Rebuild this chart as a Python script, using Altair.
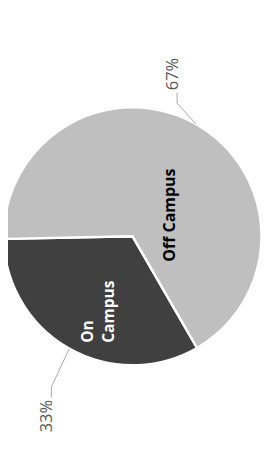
import math
import altair as alt
import pandas as pd

# ---- data ----
categories = ["On Campus", "Off Campus"]
values = [33, 67]
inner_text = [["On", "Campus"], ["Off Campus"]]

# ---- styles / layout ----
slice_colors = ["#404040", "#bfbfbf"]
inner_colors = ["#ffffff", "#000000"]
W, H = 261, 444
CX, CY = 128.5, 228.5
R = 132
START_DEG = 150
FONT = "Open Sans"

total = sum(values)
pct_text = [f"{round(100 * v / total)}%" for v in values]

mids = []
acc = 0
for v in values:
    mids.append(START_DEG + 360 * (acc + v / 2) / total)
    acc += v


def polar(deg, r):
    a = math.radians(deg)
    return CX + r * math.sin(a), CY - r * math.cos(a)


# label placement (radius along slice mid-angle + nudge)
inner_r = [110, 40]
inner_nudge = [(8, 14), (19, 13)]
pct_r = [190, 170]
pct_nudge = [(10.5, 20), (-36.5, -19.3)]

df = pd.DataFrame({"cat": categories, "value": values, "order": list(range(len(values)))})

inner_rows = []
pct_rows = []
leader_rows = []
for i, c in enumerate(categories):
    ix, iy = polar(mids[i], inner_r[i])
    inner_rows.append({"cat": c, "txt": inner_text[i], "x": ix + inner_nudge[i][0], "y": iy + inner_nudge[i][1]})
    px, py = polar(mids[i], pct_r[i])
    px += pct_nudge[i][0]
    py += pct_nudge[i][1]
    pct_rows.append({"cat": c, "txt": pct_text[i], "x": px, "y": py})
    s = 1 if py < CY else -1
    sx, sy = polar(mids[i], R + 1)
    ex, ey = px - 1, py + s * 19
    bx, by = ex, ey + s * 11
    for k, (xx, yy) in enumerate([(sx, sy), (bx, by), (ex, ey)]):
        leader_rows.append({"cat": c, "k": k, "x": xx, "y": yy})

inner_df = pd.DataFrame(inner_rows)
pct_df = pd.DataFrame(pct_rows)
leader_df = pd.DataFrame(leader_rows)

arcs = alt.Chart(df).mark_arc(radius=R + 1, stroke="white", strokeWidth=2.5).encode(
    theta=alt.Theta("value:Q", stack=True,
                    scale=alt.Scale(range=[math.radians(START_DEG), math.radians(START_DEG + 360)])),
    order=alt.Order("order:Q"),
    color=alt.Color("cat:N", scale=alt.Scale(domain=categories, range=slice_colors), legend=None),
    x=alt.value(CX),
    y=alt.value(CY),
)

xenc = alt.X("x:Q", scale=None, axis=None)
yenc = alt.Y("y:Q", scale=None, axis=None)

on_label = alt.Chart(inner_df).transform_filter(alt.datum.cat == categories[0]).mark_text(
    angle=270, align="left", baseline="middle", font=FONT, fontWeight="bold",
    fontSize=16, lineHeight=22, color=inner_colors[0]
).encode(x=xenc, y=yenc, text="txt")

off_label = alt.Chart(inner_df).transform_filter(alt.datum.cat == categories[1]).mark_text(
    angle=270, align="center", baseline="middle", font=FONT, fontWeight="bold",
    fontSize=16.5, color=inner_colors[1]
).encode(x=xenc, y=yenc, text="txt")

leaders = alt.Chart(leader_df).mark_line(color="#a6a6a6", strokeWidth=1).encode(
    x=xenc, y=yenc, detail="cat:N", order="k:Q"
)

pct_labels = alt.Chart(pct_df).mark_text(
    angle=270, align="center", baseline="alphabetic", font=FONT, fontSize=17, color="#595959"
).encode(x=xenc, y=yenc, text="txt")

chart = alt.layer(arcs, on_label, off_label, leaders, pct_labels).properties(
    width=W, height=H, padding=0, autosize=alt.AutoSizeParams(type="none")
).configure_view(stroke=None)

chart.save("out.html", embed_options={"renderer": "svg", "actions": False})
